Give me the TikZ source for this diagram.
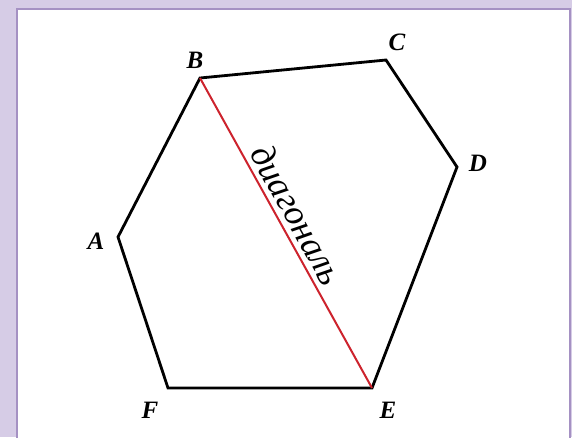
\documentclass[tikz,border=0pt]{standalone}
\usepackage{fontspec}
\setmainfont{Liberation Serif}
\usetikzlibrary{positioning}
\definecolor{framelilac}{RGB}{214,204,230}
\definecolor{frameedge}{RGB}{165,145,195}
\definecolor{diagred}{RGB}{205,35,45}
\tikzset{
  side/.style={line width=2.8pt, line join=miter}, % sides of the hexagon
  diag/.style={diagred, line width=2pt}, % the red diagonal
  vlabel/.style={font=\fontsize{25}{28}\selectfont\bfseries\itshape, inner sep=0pt}, % vertex letters
}
\begin{document}
\begin{tikzpicture}[x=1pt,y=-1pt]
    % frame
    \fill[framelilac] (0,0) rectangle (572,437);
    \useasboundingbox (0,0) rectangle (572,437);
    \filldraw[fill=white, draw=frameedge, line width=1.5pt] (17,9) rectangle (570,445);

    \coordinate (A) at (118,237);
    \coordinate (B) at (200,78);
    \coordinate (C) at (386,60);
    \coordinate (D) at (457,167);
    \coordinate (E) at (372,388);
    \coordinate (F) at (168,388);

    \draw[side] (A) -- (B) -- (C) -- (D) -- (E) -- (F) -- cycle;
    \draw[diag] (B) -- node[sloped, above, pos=0.47, inner sep=5pt, text=black,
      font=\fontsize{36}{38}\selectfont\itshape] (word) {диагональ} (E);

    \node[vlabel] (lA) at (96,241) {A};
    \node[vlabel] (lB) at (195,60) {B};
    \node[vlabel] (lC) at (397,42) {C};
    \node[vlabel] (lD) at (478,163) {D};
    \node[vlabel] (lE) at (388,410) {E};
    \node[vlabel] (lF) at (150,410) {F};
  \end{tikzpicture}
\end{document}
